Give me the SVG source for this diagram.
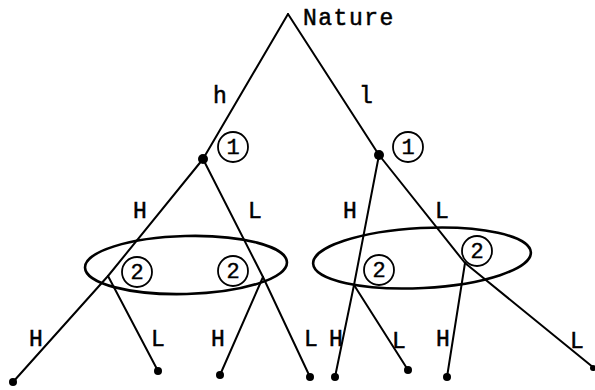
<svg xmlns="http://www.w3.org/2000/svg" width="595" height="390" viewBox="0 0 595 390">
<style>
.e{stroke:#000;stroke-width:2;fill:none;stroke-linecap:round}
.set{stroke:#000;stroke-width:2.6;fill:none}
.t{font-family:"Liberation Mono","DejaVu Sans Mono",monospace;font-size:23px;fill:#000;stroke:#000;stroke-width:0.5;text-anchor:middle}
.c{stroke:#000;stroke-width:1.8;fill:#fff}
.n{font-family:"Liberation Mono","DejaVu Sans Mono",monospace;font-size:22px;fill:#000;stroke:#000;stroke-width:0.4;text-anchor:middle}
.d{fill:#000}
</style>
<g id="connectors">
<line class="e" x1="288" y1="14" x2="203" y2="159"/>
<line class="e" x1="288" y1="14" x2="379" y2="155"/>
<line class="e" x1="203" y1="159" x2="108" y2="276"/>
<line class="e" x1="108" y1="276" x2="13" y2="382"/>
<line class="e" x1="108" y1="276" x2="158" y2="371"/>
<line class="e" x1="203" y1="159" x2="263" y2="277"/>
<line class="e" x1="263" y1="277" x2="310" y2="377"/>
<line class="e" x1="263" y1="277" x2="220" y2="375"/>
<line class="e" x1="379" y1="155" x2="354" y2="285"/>
<line class="e" x1="354" y1="285" x2="335" y2="377"/>
<line class="e" x1="354" y1="285" x2="408" y2="370"/>
<line class="e" x1="379" y1="155" x2="465" y2="263"/>
<line class="e" x1="465" y1="263" x2="447" y2="377"/>
<line class="e" x1="465" y1="263" x2="594" y2="368"/>
</g>
<g id="infoset-left"><ellipse class="set" cx="186" cy="265" rx="101" ry="29" transform="rotate(-1.5 186 265)"/></g>
<g id="infoset-right"><ellipse class="set" cx="422" cy="258" rx="109" ry="30" transform="rotate(-3 422 258)"/></g>
<g id="nature"><text class="t" x="303" y="25" style="text-anchor:start;letter-spacing:1.5px">Nature</text></g>
<g id="edge-labels">
<text class="t" x="220" y="103">h</text>
<text class="t" x="366" y="103">l</text>
<text class="t" x="140" y="218">H</text>
<text class="t" x="255" y="218">L</text>
<text class="t" x="350" y="218">H</text>
<text class="t" x="442" y="218">L</text>
<text class="t" x="36" y="346">H</text>
<text class="t" x="158" y="346">L</text>
<text class="t" x="218" y="346">H</text>
<text class="t" x="311" y="346">L</text>
<text class="t" x="336" y="346">H</text>
<text class="t" x="399" y="348">L</text>
<text class="t" x="443" y="346">H</text>
<text class="t" x="577" y="348">L</text>
</g>
<g id="p1-left"><circle class="d" cx="203" cy="159" r="5"/><circle class="c" cx="233" cy="147" r="15"/><text class="n" x="233" y="154">1</text></g>
<g id="p1-right"><circle class="d" cx="379" cy="155" r="5"/><circle class="c" cx="408" cy="147" r="15"/><text class="n" x="408" y="154">1</text></g>
<g id="p2-a"><circle class="c" cx="137" cy="272" r="15"/><text class="n" x="137" y="279">2</text></g>
<g id="p2-b"><circle class="c" cx="233" cy="271" r="15"/><text class="n" x="233" y="278">2</text></g>
<g id="p2-c"><circle class="c" cx="379" cy="270" r="15"/><text class="n" x="379" y="277">2</text></g>
<g id="p2-d"><circle class="c" cx="477" cy="251" r="15"/><text class="n" x="477" y="258">2</text></g>
<g id="terminals">
<circle class="d" cx="13" cy="382" r="4"/>
<circle class="d" cx="158" cy="371" r="4"/>
<circle class="d" cx="220" cy="375" r="4"/>
<circle class="d" cx="310" cy="377" r="4"/>
<circle class="d" cx="335" cy="377" r="4"/>
<circle class="d" cx="408" cy="370" r="4"/>
<circle class="d" cx="447" cy="377" r="4"/>
<circle class="d" cx="593" cy="368" r="3"/>
</g>
</svg>
